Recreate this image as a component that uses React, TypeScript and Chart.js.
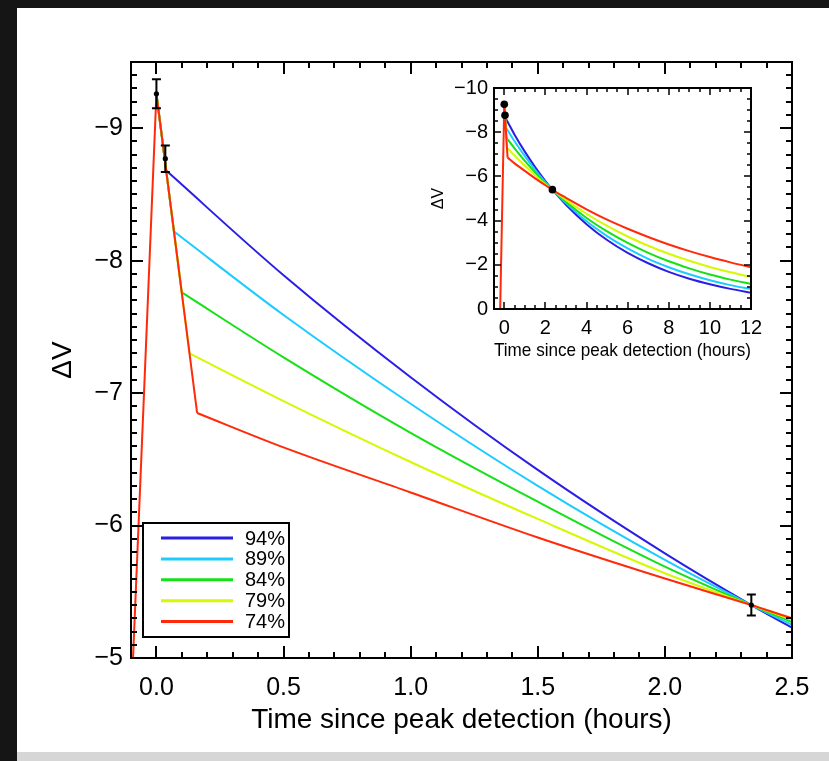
import React, { useEffect, useRef } from 'react';
import { Chart, registerables } from 'chart.js';

Chart.register(...registerables);

const FONT = '"Liberation Sans", Arial, Helvetica, sans-serif';

// ---------- data ----------
const seriesLabels = ['94%', '89%', '84%', '79%', '74%'];
const seriesColors = ['#2a1ee6', '#1ccbff', '#16e016', '#d6f800', '#ff2a0a'];

// shared rise before the peak (hours, ΔV)
const riseTimes = [-0.5, -0.2, 0.0];
const riseMag = [0, 0, -9.26];

// break point where each model leaves the steep drop
const breakTimes = [0.0385, 0.069, 0.0996, 0.13, 0.16];

// decay sample times (hours)
const decayTimes = [0.5, 1.0, 1.5, 2.0, 2.34, 2.5, 3, 4, 5, 6, 7, 8, 9, 10, 11, 12];

// first value = break value, then values at decayTimes
const mag94 = [-8.68, -7.89, -7.12, -6.42, -5.79, -5.4, -5.23, -4.72, -3.84, -3.12, -2.54, -2.07, -1.68, -1.37, -1.12, -0.91, -0.74];
const mag89 = [-8.22, -7.59, -6.92, -6.3, -5.74, -5.4, -5.25, -4.79, -3.97, -3.3, -2.74, -2.27, -1.89, -1.57, -1.3, -1.08, -0.9];
const mag84 = [-7.76, -7.27, -6.7, -6.18, -5.69, -5.4, -5.27, -4.85, -4.12, -3.51, -2.99, -2.54, -2.16, -1.84, -1.56, -1.33, -1.13];
const mag79 = [-7.3, -6.94, -6.48, -6.05, -5.64, -5.4, -5.29, -4.94, -4.31, -3.76, -3.28, -2.86, -2.5, -2.18, -1.9, -1.66, -1.45];
const mag74 = [-6.85, -6.59, -6.25, -5.91, -5.6, -5.4, -5.3, -5.03, -4.51, -4.04, -3.63, -3.26, -2.92, -2.62, -2.35, -2.11, -1.89];
const seriesMags = [mag94, mag89, mag84, mag79, mag74];

// observations
const obsTime = [0.0, 0.035, 2.34];
const obsMag = [-9.26, -8.77, -5.4];
const obsErr = [0.11, 0.1, 0.08];

// tick labels
const mainXTickValues = [0, 0.5, 1.0, 1.5, 2.0, 2.5];
const mainXTickLabels = ['0.0', '0.5', '1.0', '1.5', '2.0', '2.5'];
const mainYTickValues = [-9, -8, -7, -6, -5];
const mainYTickLabels = ['\u22129', '\u22128', '\u22127', '\u22126', '\u22125'];
const insetXTickValues = [0, 2, 4, 6, 8, 10, 12];
const insetXTickLabels = ['0', '2', '4', '6', '8', '10', '12'];
const insetYTickValues = [-10, -8, -6, -4, -2, 0];
const insetYTickLabels = ['\u221210', '\u22128', '\u22126', '\u22124', '\u22122', '0'];

const xTitle = 'Time since peak detection (hours)';
const yTitle = '\u0394V';

// ---------- helpers ----------
function risePoints(i: number) {
  const pts: { x: number; y: number }[] = [];
  const last = seriesLabels.length - 1;
  riseTimes.forEach((t, k) => {
    // only the top-most (last) model carries the shared pre-peak rise
    if (i === last || k === riseTimes.length - 1) pts.push({ x: t, y: riseMag[k] });
  });
  pts.push({ x: breakTimes[i], y: seriesMags[i][0] });
  return pts;
}

function decayPoints(i: number) {
  const pts: { x: number; y: number }[] = [{ x: breakTimes[i], y: seriesMags[i][0] }];
  decayTimes.forEach((t, k) => pts.push({ x: t, y: seriesMags[i][k + 1] }));
  return pts;
}

function labelFor(values: number[], labels: string[]) {
  return (v: any) => {
    const n = Number(v);
    for (let i = 0; i < values.length; i++) {
      if (Math.abs(values[i] - n) < 1e-6) return labels[i];
    }
    return '';
  };
}

function isMajor(v: number, step: number) {
  const r = v / step;
  return Math.abs(r - Math.round(r)) < 1e-6;
}

const frameTicks = {
  id: 'frameTicks',
  afterDatasetsDraw(chart: any, _args: any, opts: any) {
    const { ctx, chartArea: a, scales } = chart;
    const xs = scales.x;
    const ys = scales.y;
    ctx.save();
    ctx.strokeStyle = '#000';
    ctx.lineWidth = opts.tickWidth;
    ctx.beginPath();
    xs.ticks.forEach((t: any) => {
      const px = Math.round(xs.getPixelForValue(t.value));
      if (px <= a.left + 1 || px >= a.right - 1) return;
      const len = isMajor(t.value, opts.xMajor) ? opts.majorLen : opts.minorLen;
      ctx.moveTo(px, a.bottom);
      ctx.lineTo(px, a.bottom - len);
      ctx.moveTo(px, a.top);
      ctx.lineTo(px, a.top + len);
    });
    ys.ticks.forEach((t: any) => {
      const py = Math.round(ys.getPixelForValue(t.value));
      if (py <= a.top + 1 || py >= a.bottom - 1) return;
      const len = isMajor(t.value, opts.yMajor) ? opts.majorLen : opts.minorLen;
      ctx.moveTo(a.left, py);
      ctx.lineTo(a.left + len, py);
      ctx.moveTo(a.right, py);
      ctx.lineTo(a.right - len, py);
    });
    ctx.stroke();
    ctx.lineWidth = opts.frameWidth;
    ctx.strokeRect(a.left, a.top, a.right - a.left, a.bottom - a.top);
    ctx.restore();
  },
};

const errorBars = {
  id: 'errorBars',
  afterDatasetsDraw(chart: any, _args: any, opts: any) {
    if (!opts.show) return;
    const { ctx, scales } = chart;
    const xs = scales.x;
    const ys = scales.y;
    ctx.save();
    ctx.strokeStyle = '#000';
    ctx.lineWidth = 2;
    ctx.beginPath();
    obsTime.forEach((t, i) => {
      const px = xs.getPixelForValue(t);
      const y1 = ys.getPixelForValue(obsMag[i] - obsErr[i]);
      const y2 = ys.getPixelForValue(obsMag[i] + obsErr[i]);
      ctx.moveTo(px, y1);
      ctx.lineTo(px, y2);
      ctx.moveTo(px - opts.cap, y1);
      ctx.lineTo(px + opts.cap, y1);
      ctx.moveTo(px - opts.cap, y2);
      ctx.lineTo(px + opts.cap, y2);
    });
    ctx.stroke();
    ctx.restore();
  },
};

const legendBox = {
  id: 'legendBox',
  afterDraw(chart: any, _args: any, opts: any) {
    const { ctx, chartArea: a } = chart;
    const left = a.left + opts.offsetX;
    const bottom = a.bottom - opts.offsetY;
    const top = bottom - opts.height;
    ctx.save();
    ctx.fillStyle = '#fff';
    ctx.fillRect(left, top, opts.width, opts.height);
    ctx.strokeStyle = '#000';
    ctx.lineWidth = 2;
    ctx.strokeRect(left, top, opts.width, opts.height);
    ctx.font = `${opts.fontSize}px ${FONT}`;
    ctx.textBaseline = 'middle';
    ctx.textAlign = 'left';
    seriesLabels.forEach((lab, i) => {
      const y = top + opts.firstRow + i * opts.rowGap;
      ctx.strokeStyle = seriesColors[i];
      ctx.lineWidth = 3;
      ctx.beginPath();
      ctx.moveTo(left + opts.lineX0, y);
      ctx.lineTo(left + opts.lineX1, y);
      ctx.stroke();
      ctx.fillStyle = '#000';
      ctx.fillText(lab, left + opts.textX, y + 1);
    });
    ctx.restore();
  },
};

function makeDatasets(pointRadius: number) {
  const ds: any[] = [];
  seriesLabels.forEach((lab, i) => {
    ds.push({
      type: 'line',
      label: lab + ' peak',
      data: risePoints(i),
      borderColor: seriesColors[i],
      backgroundColor: seriesColors[i],
      borderWidth: 2,
      pointRadius: 0,
      tension: 0,
      fill: false,
      order: 20 - i,
    });
    ds.push({
      type: 'line',
      label: lab,
      data: decayPoints(i),
      borderColor: seriesColors[i],
      backgroundColor: seriesColors[i],
      borderWidth: 2,
      pointRadius: 0,
      cubicInterpolationMode: 'monotone',
      fill: false,
      order: 20 - i,
    });
  });
  ds.push({
    type: 'scatter',
    label: 'observed',
    data: obsTime.map((t, i) => ({ x: t, y: obsMag[i] })),
    backgroundColor: '#000',
    borderColor: '#000',
    pointRadius,
    borderWidth: 0,
    showLine: false,
    order: 0,
  });
  return ds;
}

function mainConfig(): any {
  return {
    type: 'line',
    data: { datasets: makeDatasets(2.6) },
    plugins: [frameTicks, errorBars, legendBox],
    options: {
      animation: false,
      responsive: false,
      devicePixelRatio: 1,
      events: [],
      layout: { padding: { left: 0, right: 37, top: 62, bottom: 0 } },
      plugins: {
        legend: { display: false },
        tooltip: { enabled: false },
        frameTicks: { xMajor: 0.5, yMajor: 1, majorLen: 12, minorLen: 6, tickWidth: 2, frameWidth: 2 },
        errorBars: { show: true, cap: 4.5 },
        legendBox: {
          offsetX: 12, offsetY: 21, width: 146, height: 114,
          firstRow: 15, rowGap: 20.9, lineX0: 18, lineX1: 90, textX: 102, fontSize: 20,
        },
      },
      scales: {
        x: {
          type: 'linear',
          min: -0.1,
          max: 2.5,
          afterFit: (s: any) => { s.height = 103; },
          grid: { display: false, drawTicks: false },
          border: { display: false },
          ticks: {
            stepSize: 0.1,
            autoSkip: false,
            maxRotation: 0,
            padding: 15,
            color: '#000',
            font: { family: FONT, size: 25 },
            callback: labelFor(mainXTickValues, mainXTickLabels),
          },
          title: {
            display: true,
            text: xTitle,
            color: '#000',
            font: { family: FONT, size: 28 },
            padding: { top: 0, bottom: 24 },
          },
        },
        y: {
          type: 'linear',
          min: -9.5,
          max: -5,
          reverse: true,
          afterFit: (s: any) => { s.width = 131; },
          grid: { display: false, drawTicks: false },
          border: { display: false },
          ticks: {
            stepSize: 0.1,
            autoSkip: false,
            padding: 8,
            color: '#000',
            font: { family: FONT, size: 25 },
            callback: labelFor(mainYTickValues, mainYTickLabels),
          },
          title: {
            display: true,
            text: yTitle,
            color: '#000',
            font: { family: FONT, size: 28 },
            padding: { top: 46, bottom: 0 },
          },
        },
      },
    },
  };
}

function insetConfig(): any {
  return {
    type: 'line',
    data: { datasets: makeDatasets(3.8) },
    plugins: [frameTicks],
    options: {
      animation: false,
      responsive: false,
      devicePixelRatio: 1,
      events: [],
      layout: { padding: { left: 0, right: 39, top: 14, bottom: 0 } },
      plugins: {
        legend: { display: false },
        tooltip: { enabled: false },
        frameTicks: { xMajor: 2, yMajor: 2, majorLen: 7, minorLen: 4, tickWidth: 1.5, frameWidth: 2 },
      },
      scales: {
        x: {
          type: 'linear',
          min: -0.5,
          max: 12,
          afterFit: (s: any) => { s.height = 61; },
          grid: { display: false, drawTicks: false },
          border: { display: false },
          ticks: {
            stepSize: 0.5,
            autoSkip: false,
            maxRotation: 0,
            padding: 7,
            color: '#000',
            font: { family: FONT, size: 20 },
            callback: labelFor(insetXTickValues, insetXTickLabels),
          },
          title: {
            display: true,
            text: xTitle,
            color: '#000',
            font: { family: FONT, size: 19 },
            padding: { top: 0, bottom: 8 },
          },
        },
        y: {
          type: 'linear',
          min: -10,
          max: 0,
          reverse: true,
          afterFit: (s: any) => { s.width = 74; },
          grid: { display: false, drawTicks: false },
          border: { display: false },
          ticks: {
            stepSize: 0.5,
            autoSkip: false,
            padding: 6,
            color: '#000',
            font: { family: FONT, size: 20 },
            callback: labelFor(insetYTickValues, insetYTickLabels),
          },
          title: {
            display: true,
            text: yTitle,
            color: '#000',
            font: { family: FONT, size: 16 },
            padding: { top: 9, bottom: 0 },
          },
        },
      },
    },
  };
}

export default function App() {
  const mainRef = useRef<HTMLCanvasElement>(null);
  const insetRef = useRef<HTMLCanvasElement>(null);

  useEffect(() => {
    const c1 = new Chart(mainRef.current as HTMLCanvasElement, mainConfig());
    const c2 = new Chart(insetRef.current as HTMLCanvasElement, insetConfig());
    return () => {
      c1.destroy();
      c2.destroy();
    };
  }, []);

  return (
    <div style={{ position: 'fixed', left: 0, top: 0, width: 829, height: 761, background: '#151515', overflow: 'hidden' }}>
      <div style={{ position: 'absolute', left: 17, top: 8, width: 812, height: 744, background: '#ffffff' }} />
      <div style={{ position: 'absolute', left: 17, top: 752, width: 812, height: 9, background: '#d6d6d6' }} />
      <canvas
        ref={mainRef}
        width={829}
        height={761}
        style={{ position: 'absolute', left: 0, top: 0, width: 829, height: 761 }}
      />
      <canvas
        ref={insetRef}
        width={370}
        height={300}
        style={{ position: 'absolute', left: 420, top: 70, width: 370, height: 300 }}
      />
    </div>
  );
}
